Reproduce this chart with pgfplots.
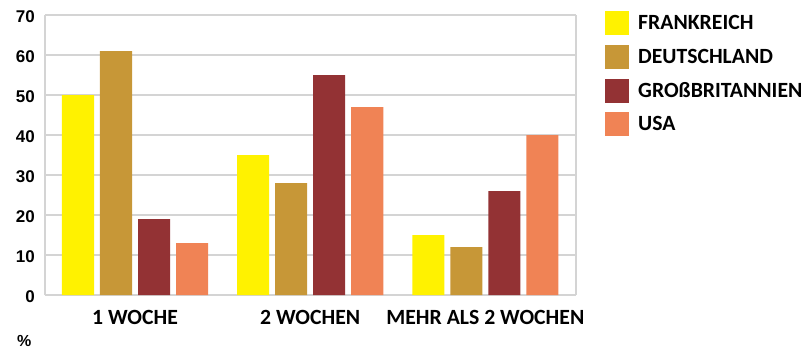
\documentclass[border=0pt]{standalone}
\usepackage{fontspec}
\setmainfont{Carlito}
\newfontfamily\numfont{Liberation Sans}
\usepackage{pgfplots}
\pgfplotsset{compat=1.18}

\definecolor{cFR}{HTML}{FFF200}
\definecolor{cDE}{HTML}{C79737}
\definecolor{cGB}{HTML}{933234}
\definecolor{cUS}{HTML}{F08355}
\definecolor{gridgray}{HTML}{D4D4D4}

\begin{document}
\begin{tikzpicture}
\path[use as bounding box] (0pt,0pt) rectangle (803pt,349pt);
\begin{axis}[
  at={(45pt,54pt)}, anchor=south west,
  scale only axis, width=530.7pt, height=280pt,
  ybar, bar width=0.183,
  xmin=-0.514, xmax=2.516, ymin=0, ymax=70,
  xtick={0,1,2}, xticklabels={1 WOCHE, 2 WOCHEN, MEHR ALS 2 WOCHEN},
  ytick={0,10,...,70},
  major tick length=0pt,
  ymajorgrids, major grid style={gridgray, line width=2pt},
  axis line style={gridgray, line width=2pt},
  axis x line*=bottom,
  /pgf/number format/assume math mode=true,
  yticklabel style={font=\numfont\bfseries\fontsize{17}{17}\selectfont, inner sep=0pt, xshift=-10pt, yshift=-1.5pt},
  xticklabel style={font=\bfseries\fontsize{21.7}{21.7}\selectfont, anchor=base, inner sep=0pt, yshift=-29pt},
  legend image code/.code={\fill[#1] (0pt,-12pt) rectangle (24pt,12pt);},
  legend style={at={(rel axis cs:1,1)}, anchor=north west, xshift=29.3pt, yshift=4pt,
    draw=none, fill=none, inner sep=0pt, row sep=9.7pt,
    font=\bfseries\fontsize{21.7}{21.7}\selectfont,
    nodes={inner sep=0pt},
    /tikz/every odd column/.append style={column sep=9pt}},
  legend cell align=left,
]
\draw[gridgray, line width=2pt] (rel axis cs:0,0) -- (rel axis cs:0,1);
\draw[gridgray, line width=2pt] (rel axis cs:1,0) -- (rel axis cs:1,1);
\addplot[fill=cFR, draw=none, bar shift=-0.3257] coordinates {(0,50) (1,35) (2,15)};
\addplot[fill=cDE, draw=none, bar shift=-0.1086] coordinates {(0,61) (1,28) (2,12)};
\addplot[fill=cGB, draw=none, bar shift=0.1086] coordinates {(0,19) (1,55) (2,26)};
\addplot[fill=cUS, draw=none, bar shift=0.3257] coordinates {(0,13) (1,47) (2,40)};
\legend{FRANKREICH, DEUTSCHLAND, GROßBRITANNIEN, USA}
\end{axis}
\node[anchor=base west, inner sep=0pt, font=\numfont\bfseries\fontsize{16}{16}\selectfont] at (17pt,3pt) {\%};
\end{tikzpicture}
\end{document}
